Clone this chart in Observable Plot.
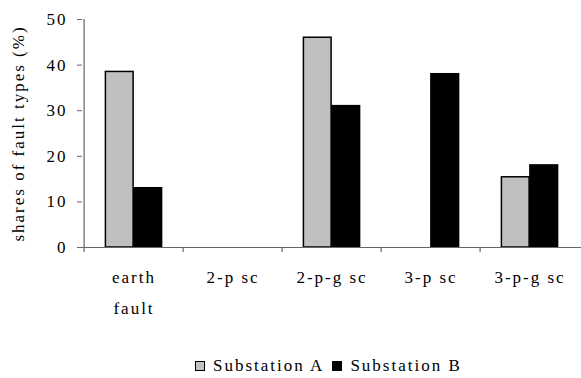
<!DOCTYPE html>
<html><head><meta charset="utf-8">
<script src="https://cdn.jsdelivr.net/npm/d3@7"></script>
<script src="https://cdn.jsdelivr.net/npm/@observablehq/plot@0.6"></script>
<style>
body{margin:0;background:#fff;font-family:"Liberation Serif","Times New Roman",Times,"DejaVu Serif",serif;}
#wrap{position:relative;width:581px;height:378px;}
#chart svg, #chart svg text{font-family:"Liberation Serif","Times New Roman",Times,"DejaVu Serif",serif !important;letter-spacing:2px;}
#legend{position:absolute;left:195px;top:356px;display:flex;align-items:center;font-size:17px;letter-spacing:2px;color:#000;line-height:20px;}
.sw{width:8px;height:8px;border:1px solid #000;display:inline-block;margin-right:8px;}
.item{display:flex;align-items:center;margin-right:8px;}
</style></head><body>
<div id="wrap"><div id="chart"></div><div id="legend"></div></div>
<script>
const categories = ["earth fault", "2-p sc", "2-p-g sc", "3-p sc", "3-p-g sc"];
const categoryLabels = ["earth\nfault", "2-p sc", "2-p-g sc", "3-p sc", "3-p-g sc"];
const seriesNames = ["Substation A", "Substation B"];
const substationA = [38.5, 0, 46, 0, 15.4];
const substationB = [13, 0, 31, 38, 18];
const yTicks = [0, 10, 20, 30, 40, 50];
const seriesColors = ["#c0c0c0", "#000000"];
const yLabel = "shares of fault types (%)";

const FONT = '"Liberation Serif","Times New Roman",Times,"DejaVu Serif",serif';
const W = 581, H = 320, ML = 82, MR = 0, MT = 19, MB = 73;
const bw = (W - ML - MR) / categories.length;
const barW = 28.5;

const rows = [];
categories.forEach((c, i) => {
  rows.push({category: c, series: seriesNames[0], value: substationA[i]});
  rows.push({category: c, series: seriesNames[1], value: substationB[i]});
});
const shown = rows.filter(d => d.value > 0);
const labelOf = new Map(categories.map((c, i) => [c, categoryLabels[i]]));

const chart = Plot.plot({
  width: W, height: H,
  marginLeft: ML, marginRight: MR, marginTop: MT, marginBottom: MB,
  style: {fontFamily: FONT, fontSize: "17px", background: "#fff", overflow: "visible"},
  x: {type: "band", domain: categories, padding: 0, axis: null},
  y: {domain: [0, 50], axis: null},
  color: {domain: seriesNames, range: seriesColors},
  marks: [
    Plot.barY(shown.filter(d => d.series === seriesNames[0]), {
      x: "category", y: "value", fill: "series", stroke: "#000", strokeWidth: 1.5,
      insetLeft: bw / 2 - barW, insetRight: bw / 2
    }),
    Plot.barY(shown.filter(d => d.series === seriesNames[1]), {
      x: "category", y: "value", fill: "series", stroke: "#000", strokeWidth: 1.5,
      insetLeft: bw / 2, insetRight: bw / 2 - barW
    }),
    Plot.ruleY([0], {stroke: "#666", strokeWidth: 1.2}),
    Plot.ruleX([categories[0]], {x: d => d, y1: 0, y2: 50, dx: -bw / 2, stroke: "#666", strokeWidth: 1.2}),
    Plot.ruleX(categories, {x: d => d, y1: 0, y2: 0, dx: -bw / 2, insetBottom: -5, stroke: "#666", strokeWidth: 1.2}),
    Plot.axisY({ticks: yTicks, tickSize: 5, tickPadding: 10, stroke: "#666", fill: "#000", fontSize: 17, fontFamily: FONT, label: null, tickFormat: d => String(d)}),
    Plot.text(categories, {x: d => d, y: () => 0, text: d => labelOf.get(d), lineAnchor: "top", dy: 14, lineHeight: 1.82, fontSize: 17, fontFamily: FONT, fill: "#000"}),
    Plot.text([yLabel], {text: d => d, frameAnchor: "left", textAnchor: "middle", rotate: -90, dx: -64, fontSize: 17, fontFamily: FONT, fill: "#000"})
  ]
});
document.getElementById("chart").appendChild(chart);

const legend = document.getElementById("legend");
seriesNames.forEach((s, i) => {
  const item = document.createElement("span");
  item.className = "item";
  const sw = document.createElement("span");
  sw.className = "sw";
  sw.style.background = seriesColors[i];
  item.appendChild(sw);
  item.appendChild(document.createTextNode(s));
  legend.appendChild(item);
});
</script>
</body></html>
